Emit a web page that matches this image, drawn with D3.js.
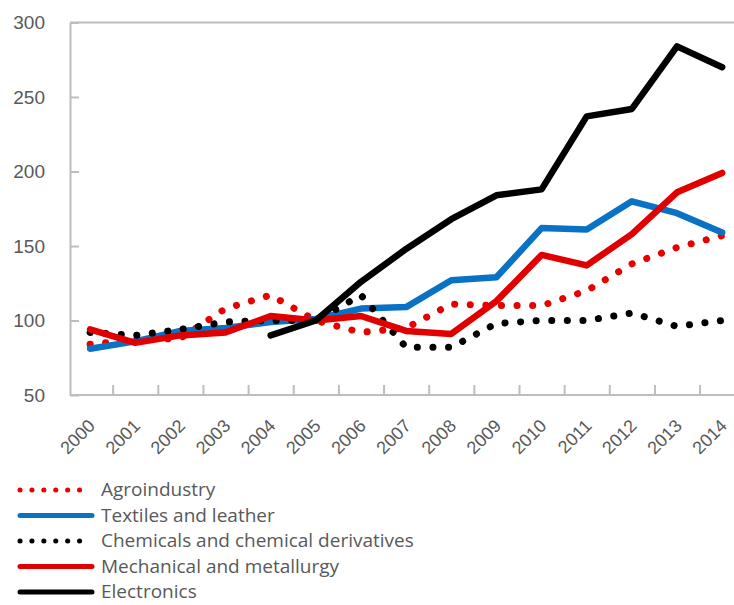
<!DOCTYPE html>
<html>
<head>
<meta charset="utf-8">
<script src="https://cdn.jsdelivr.net/npm/d3@7"></script>
<style>
  html, body { margin: 0; padding: 0; background: #fff; }
  svg { display: block; font-family: "Open Sans", "Noto Sans", sans-serif; }
</style>
</head>
<body>
<svg id="chart" width="734" height="605"></svg>
<script>
// Index values (2005 = 100) by sector
const years = ["2000","2001","2002","2003","2004","2005","2006","2007","2008","2009","2010","2011","2012","2013","2014"];
const agroindustry = [84, 87, 88, 108, 117, 100, 92, 95, 111, 110, 110, 120, 138, 149, 157];
const textiles     = [81, 86, 93, 95, 99, 101, 108, 109, 127, 129, 162, 161, 180, 172, 159];
const chemicals    = [92, 90, 94, 99, 100, 100, 117, 82, 82, 98, 100, 100, 105, 96, 100];
const mechanical   = [94, 85, 90, 92, 103, 100, 103, 93, 91, 113, 144, 137, 158, 186, 199];
const electronics  = [null, null, null, null, 90, 100, 126, 148, 168, 184, 188, 237, 242, 284, 270];
const yTicks = [50, 100, 150, 200, 250, 300];

const series = [
  { name: "Agroindustry", values: agroindustry, color: "#e60000", dotted: true },
  { name: "Textiles and leather", values: textiles, color: "#0a72c4", dotted: false },
  { name: "Chemicals and chemical derivatives", values: chemicals, color: "#000000", dotted: true },
  { name: "Mechanical and metallurgy", values: mechanical, color: "#e00000", dotted: false },
  { name: "Electronics", values: electronics, color: "#000000", dotted: false }
];

const svg = d3.select("#chart");
const axisColor = "#bdbdbd";
const textColor = "#595959";

const plotLeft = 67.5, plotRight = 744.75, plotTop = 22.5, plotBottom = 395;

const x = d3.scaleBand().domain(years).range([plotLeft, plotRight]).padding(0);
const xb = d3.scaleLinear().domain([0, years.length]).range([plotLeft, plotRight]);
const y = d3.scaleLinear().domain([50, 300]).range([plotBottom, plotTop]);
const cx = d => x(d) + x.bandwidth() / 2;

// top frame line
svg.append("line")
  .attr("x1", 70).attr("x2", 734)
  .attr("y1", y(300)).attr("y2", y(300))
  .attr("stroke", axisColor).attr("stroke-width", 2);

// y axis
const gy = svg.append("g").attr("transform", "translate(70,0)")
  .call(d3.axisLeft(y).tickValues(yTicks).tickSizeInner(-9).tickSizeOuter(0).tickPadding(25));
gy.select(".domain").attr("stroke", axisColor).attr("stroke-width", 2);
gy.selectAll(".tick line").attr("stroke", axisColor).attr("stroke-width", 2);
gy.selectAll(".tick text").attr("fill", textColor).attr("font-size", 19);

// x axis: boundary ticks
const gx = svg.append("g").attr("transform", `translate(0,${plotBottom})`)
  .call(d3.axisBottom(xb).tickValues(d3.range(1, years.length + 1)).tickSizeInner(-10).tickSizeOuter(0).tickFormat(""));
gx.select(".domain").attr("d", `M70,0H${plotRight}`).attr("stroke", axisColor).attr("stroke-width", 2);
gx.selectAll(".tick line").attr("stroke", axisColor).attr("stroke-width", 2);

// x axis: category labels
const gxl = svg.append("g").attr("transform", `translate(0,${plotBottom})`)
  .call(d3.axisBottom(x).tickSize(0).tickPadding(0));
gxl.select(".domain").remove();
gxl.selectAll(".tick text")
  .attr("fill", textColor).attr("font-size", 18)
  .attr("text-anchor", "end")
  .attr("dy", 0).attr("y", 0)
  .attr("transform", "translate(6,32) rotate(-45)");

// series lines
const line = d3.line()
  .defined(d => d.v != null)
  .x(d => cx(d.year))
  .y(d => y(d.v));

series.forEach(s => {
  const pts = years.map((yr, i) => ({ year: yr, v: s.values[i] }));
  const p = svg.append("path")
    .datum(pts)
    .attr("d", line)
    .attr("fill", "none")
    .attr("stroke", s.color)
    .attr("stroke-linejoin", "round");
  if (s.dotted) {
    p.attr("stroke-width", 7).attr("stroke-linecap", "round").attr("stroke-dasharray", "0.1 15.5");
  } else {
    p.attr("stroke-width", 6.5).attr("stroke-linecap", "round");
  }
});

// legend
const lg = svg.append("g");
series.forEach((s, i) => {
  const ly = 490 + i * 25.5;
  const ln = lg.append("line")
    .attr("x1", 20).attr("x2", s.dotted ? 91 : 92)
    .attr("y1", ly).attr("y2", ly)
    .attr("stroke", s.color).attr("stroke-linecap", "round");
  if (s.dotted) {
    ln.attr("stroke-width", 5).attr("stroke-dasharray", "0.1 11.8");
  } else {
    ln.attr("stroke-width", 5);
  }
  lg.append("text")
    .attr("x", 101).attr("y", ly + 6)
    .attr("fill", textColor).attr("font-size", 19)
    .text(s.name);
});
</script>
</body>
</html>
